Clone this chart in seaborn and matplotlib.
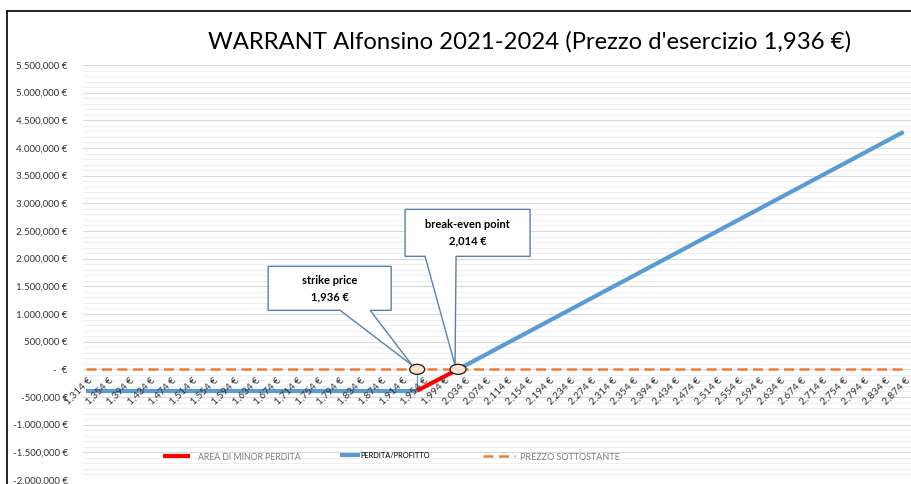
import matplotlib
matplotlib.use("Agg")
import matplotlib.pyplot as plt
import matplotlib.patches as mpatches
import matplotlib.transforms as mtransforms
from matplotlib.lines import Line2D
from matplotlib.ticker import MultipleLocator
import seaborn as sns
import pandas as pd

# ---------------- data ----------------
title = "WARRANT Alfonsino 2021-2024 (Prezzo d'esercizio 1,936 €)"

# flat loss below the strike (PERDITA/PROFITTO, first part)
loss_prices = [1.304, 1.344, 1.384, 1.424, 1.464, 1.504, 1.544, 1.584, 1.624,
               1.664, 1.704, 1.744, 1.784, 1.824, 1.864, 1.904, 1.936]
loss_values = [-385000] * len(loss_prices)

# area di minor perdita (strike -> break-even)
minor_prices = [1.936, 2.014]
minor_values = [-385000, 0]

# profit above break-even (PERDITA/PROFITTO, second part)
profit_prices = [2.014, 2.054, 2.094, 2.134, 2.174, 2.214, 2.254, 2.294, 2.334,
                 2.374, 2.414, 2.454, 2.494, 2.534, 2.574, 2.614, 2.654, 2.694,
                 2.734, 2.774, 2.814, 2.854, 2.864]
profit_values = [0, 202000, 404000, 606000, 808000, 1010000, 1212000, 1414000,
                 1616000, 1818000, 2020000, 2222000, 2424000, 2626000, 2828000,
                 3030000, 3232000, 3434000, 3636000, 3838000, 4040000, 4242000,
                 4290000]

# prezzo sottostante (zero line)
under_prices = [1.304, 2.864]
under_values = [0, 0]

x_ticks = [1.314, 1.354, 1.394, 1.434, 1.474, 1.514, 1.554, 1.594, 1.634, 1.674,
           1.714, 1.754, 1.794, 1.834, 1.874, 1.914, 1.954, 1.994, 2.034, 2.074,
           2.114, 2.154, 2.194, 2.234, 2.274, 2.314, 2.354, 2.394, 2.434, 2.474,
           2.514, 2.554, 2.594, 2.634, 2.674, 2.714, 2.754, 2.794, 2.834, 2.874]
x_labels = [("%.3f €" % v).replace(".", ",") for v in x_ticks]

y_ticks = [5500000, 5000000, 4500000, 4000000, 3500000, 3000000, 2500000, 2000000,
           1500000, 1000000, 500000, 0, -500000, -1000000, -1500000, -2000000]
y_labels = ["5.500,000 €", "5.000,000 €", "4.500,000 €", "4.000,000 €", "3.500,000 €",
            "3.000,000 €", "2.500,000 €", "2.000,000 €", "1.500,000 €", "1.000,000 €",
            "500,000 €", "-  €", "-500,000 €", "-1.000,000 €", "-1.500,000 €",
            "-2.000,000 €"]

strike_price = 1.936
breakeven_price = 2.014
callout_texts = ["strike price\n1,936 €", "break-even point\n2,014 €"]

legend_labels = ["AREA DI MINOR PERDITA", "PERDITA/PROFITTO", "PREZZO SOTTOSTANTE"]

# ---------------- style ----------------
sns.set_theme(style="white")
plt.rcParams["font.family"] = ["Lato", "DejaVu Sans"]

W, H = 912, 484
fig = plt.figure(figsize=(W / 100, H / 100), dpi=100)
ax = fig.add_axes([83 / W, 4 / H, (911 - 83) / W, (480 - 65) / H])

BLUE = "#5B9BD5"
RED = "#FF0000"
ORANGE = "#ED7D31"

df_under = pd.DataFrame({"x": under_prices, "y": under_values})
df_loss = pd.DataFrame({"x": loss_prices, "y": loss_values})
df_minor = pd.DataFrame({"x": minor_prices, "y": minor_values})
df_profit = pd.DataFrame({"x": profit_prices, "y": profit_values})

sns.lineplot(data=df_under, x="x", y="y", ax=ax, color=ORANGE, linewidth=1.8,
             linestyle=(0, (4, 2.2)), sort=False, estimator=None, zorder=3)
sns.lineplot(data=df_loss, x="x", y="y", ax=ax, color=BLUE, linewidth=3,
             sort=False, estimator=None, zorder=4, solid_capstyle="butt")
sns.lineplot(data=df_profit, x="x", y="y", ax=ax, color=BLUE, linewidth=3,
             sort=False, estimator=None, zorder=4, solid_capstyle="butt")
sns.lineplot(data=df_minor, x="x", y="y", ax=ax, color=RED, linewidth=3,
             sort=False, estimator=None, zorder=5, solid_capstyle="butt")
under_line, loss_line, profit_line, minor_line = ax.lines[:4]

# drop line under strike marker
ax.plot([strike_price, strike_price], [0, minor_values[0]], color=BLUE,
        linewidth=0.8, zorder=4)

ax.set_xlim(1.2987, 2.8778)
ax.set_ylim(-2000000, 5500000)
ax.set_xlabel("")
ax.set_ylabel("")

for s in ax.spines.values():
    s.set_visible(False)

ax.set_yticks(y_ticks)
ax.set_yticklabels(y_labels)
ax.yaxis.set_minor_locator(MultipleLocator(100000))
ax.set_xticks([])
ax.tick_params(axis="y", which="both", length=0, pad=11, labelsize=7,
               labelcolor="#333333")
ax.grid(False)
ax.yaxis.grid(True, which="major", color="#d9d9d9", linewidth=0.8, zorder=0)
ax.yaxis.grid(True, which="minor", color="#efefef", linewidth=0.8, zorder=0)
ax.set_axisbelow(True)

# category labels drawn on the zero axis, above the lines
for xt, lab in zip(x_ticks, x_labels):
    ax.annotate(lab, xy=(xt, 0), xytext=(0, -7), textcoords="offset points",
                rotation=45, ha="right", va="center", rotation_mode="anchor",
                fontsize=7.3, color="#333333", zorder=10, annotation_clip=False)

# ---------------- callouts ----------------
fig.canvas.draw()
ident = mtransforms.IdentityTransform()
EDGE = "#5A7FAE"


def callout(px, py, box, base, tip, text, ell_w, ell_h):
    cx, cy = ax.transData.transform((px, py))
    x0, x1, y0, y1 = box
    verts = [(x0, y0), (base[0], y0), (tip[0], tip[1]), (base[1], y0),
             (x1, y0), (x1, y1), (x0, y1)]
    verts = [(cx + a, cy + b) for a, b in verts]
    poly = mpatches.Polygon(verts, closed=True, transform=ident, facecolor="white",
                            edgecolor=EDGE, linewidth=1.0, zorder=6)
    fig.add_artist(poly)
    fig.text((cx + (x0 + x1) / 2) / W, (cy + (y0 + y1) / 2) / H, text,
             ha="center", va="center", fontsize=8, fontweight="bold",
             color="#000000", linespacing=1.6, zorder=7)
    ell = mpatches.Ellipse((cx, cy), ell_w, ell_h, transform=ident,
                           facecolor="#FBE0CC", edgecolor="#1a1a1a",
                           linewidth=0.9, zorder=8)
    fig.add_artist(ell)


callout(strike_price, 0, (-149, -26, 59, 103), (-77, -47), (-5, 4),
        callout_texts[0], 15, 10)
callout(breakeven_price, 0, (-53, 72, 113, 160), (-33, -2), (-3, 4),
        callout_texts[1], 16, 10)

# ---------------- title ----------------
fig.text(530 / W, 1 - 42 / H, title, ha="center", va="center", fontsize=17.2,
         color="#000000")

# ---------------- legend ----------------
ly = 1 - 457 / H
leg1 = fig.legend(handles=[minor_line], labels=[legend_labels[0]], loc="center left",
                  bbox_to_anchor=(163 / W, ly), frameon=False, fontsize=6.3,
                  handlelength=3.1, handletextpad=0.9, borderpad=0, borderaxespad=0)
for t in leg1.get_texts():
    t.set_color("#7f7f7f")
leg2 = fig.legend(handles=[loss_line], labels=[legend_labels[1]], loc="center left",
                  bbox_to_anchor=(340 / W, ly + 2 / H), frameon=False, fontsize=5.4,
                  handlelength=2.7, handletextpad=0.05, borderpad=0, borderaxespad=0)
for t in leg2.get_texts():
    t.set_color("#000000")
leg3 = fig.legend(handles=[under_line], labels=[legend_labels[2]], loc="center left",
                  bbox_to_anchor=(483 / W, ly), frameon=False, fontsize=6.5,
                  handlelength=3.5, handletextpad=0.6, borderpad=0, borderaxespad=0)
for t in leg3.get_texts():
    t.set_color("#7f7f7f")

# ---------------- chart border ----------------
fig.add_artist(Line2D([7 / W, 1.0], [1 - 11 / H, 1 - 11 / H], color="black",
                      linewidth=1.2, transform=fig.transFigure))
fig.add_artist(Line2D([7 / W, 7 / W], [0, 1 - 11 / H], color="black",
                      linewidth=1.2, transform=fig.transFigure))

fig.savefig("out.png", dpi=100)
